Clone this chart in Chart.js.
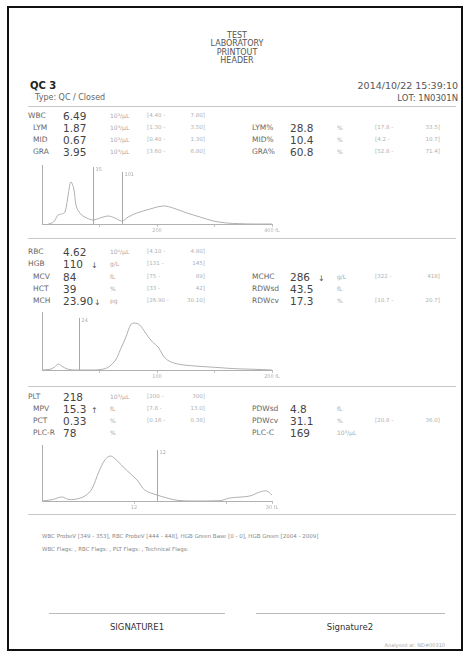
<!DOCTYPE html>
<html>
<head>
<meta charset="utf-8">
<script src="https://cdn.jsdelivr.net/npm/chart.js@4.4.0/dist/chart.umd.min.js"></script>
<style>
body{margin:0;background:#fff;}
#page{position:relative;width:469px;height:657px;overflow:hidden;font-family:"DejaVu Sans",sans-serif;}
#frame{position:absolute;left:7px;top:6px;width:456px;height:645px;border:2px solid #111;box-sizing:border-box;}
.t{position:absolute;white-space:nowrap;line-height:1;}
.v{display:inline-block;min-width:27px;}
.f{font-size:8px;color:#555;margin-left:1px;}
.hr{position:absolute;height:1px;background:#c8c8c8;}
canvas{position:absolute;}
</style>
</head>
<body>
<div id="page">
<div id="frame"></div>
<canvas id="wbcChart"></canvas>
<canvas id="rbcChart"></canvas>
<canvas id="pltChart"></canvas>
</div>
<script>
// ---- header
const headerLines = ['TEST', 'LABORATORY', 'PRINTOUT', 'HEADER'];
const sampleName = 'QC 3';
const sampleType = 'Type: QC / Closed';
const sampleDate = '2014/10/22 15:39:10';
const sampleLot = 'LOT: 1N0301N';
const mainLabels = ['WBC', 'RBC', 'HGB', 'PLT'];

// ---- WBC
const wbcNames = ['WBC', 'LYM', 'MID', 'GRA'];
const wbcValues = ['6.49', '1.87', '0.67', '3.95'];
const wbcFlags = ['', '', '', ''];
const wbcUnits = ['10³/µL', '10³/µL', '10³/µL', '10³/µL'];
const wbcRanges = [['4.40', '7.80'], ['1.30', '3.50'], ['0.40', '1.30'], ['3.60', '6.80']];
const wbcPctNames = ['LYM%', 'MID%', 'GRA%'];
const wbcPctValues = ['28.8', '10.4', '60.8'];
const wbcPctFlags = ['', '', ''];
const wbcPctUnits = ['%', '%', '%'];
const wbcPctRanges = [['17.8', '33.5'], ['4.2', '10.7'], ['52.8', '71.4']];

// WBC histogram (fL / relative count)
const wbcSize = [11, 20, 28, 34, 40, 46, 50, 55, 60, 69, 78, 89, 101, 115, 127, 139, 150, 165, 188, 211, 228, 252, 275, 298, 321, 344, 367, 400];
const wbcCount = [0, 2, 9, 10, 12, 31, 42, 36, 17, 9, 6, 4, 6, 8, 6, 3, 7, 11, 15, 18, 16, 11, 7, 3, 1, 0.3, 0, 0];
const wbcMarks = [89, 139];
const wbcMarkLabels = ['35', '101'];
const wbcMarkTops = [57, 52];
const wbcTicks = [100, 200, 300, 400];
const wbcTickLabels = ['', '200', '', '400 fL'];

// ---- RBC
const rbcNames = ['RBC', 'HGB', 'MCV', 'HCT', 'MCH'];
const rbcValues = ['4.62', '110', '84', '39', '23.90'];
const rbcFlags = ['', '↓', '', '', '↓'];
const rbcUnits = ['10⁶/µL', 'g/L', 'fL', '%', 'pg'];
const rbcRanges = [['4.10', '4.80'], ['131', '145'], ['75', '89'], ['33', '42'], ['26.90', '30.10']];
const rbcIdxNames = ['MCHC', 'RDWsd', 'RDWcv'];
const rbcIdxValues = ['286', '43.5', '17.3'];
const rbcIdxFlags = ['↓', '', ''];
const rbcIdxUnits = ['g/L', 'fL', '%'];
const rbcIdxRanges = [['322', '418'], null, ['10.7', '20.7']];

const rbcSize = [0, 7, 11, 14, 17, 22, 28, 45, 52, 58, 64, 68, 73, 77, 80, 85, 90, 96, 101, 105, 109, 118, 133, 150, 168, 185, 200];
const rbcCount = [0, 0.7, 3, 6, 4, 1, 0, 0, 0.7, 3, 10, 20, 33, 45, 47, 45, 37, 28, 23, 15, 10, 6, 4, 2.7, 1.3, 0.7, 0];
const rbcMarks = [32];
const rbcMarkLabels = ['24'];
const rbcMarkTops = [52];
const rbcTicks = [50, 100, 150, 200];
const rbcTickLabels = ['', '100', '', '200 fL'];

// ---- PLT
const pltNames = ['PLT', 'MPV', 'PCT', 'PLC-R'];
const pltValues = ['218', '15.3', '0.33', '78'];
const pltFlags = ['', '↑', '', ''];
const pltUnits = ['10³/µL', 'fL', '%', '%'];
const pltRanges = [['200', '300'], ['7.8', '13.0'], ['0.16', '0.38'], null];
const pltIdxNames = ['PDWsd', 'PDWcv', 'PLC-C'];
const pltIdxValues = ['4.8', '31.1', '169'];
const pltIdxFlags = ['', '', ''];
const pltIdxUnits = ['fL', '%', '10³/µL'];
const pltIdxRanges = [null, ['20.8', '36.0'], null];

const pltSize = [0, 1.3, 2.6, 3.4, 4.3, 5.6, 6.5, 7.4, 8.2, 8.9, 9.7, 11, 12.4, 13.4, 15, 16.3, 17.6, 19.7, 23.2, 24.5, 27.1, 28.4, 29.3, 30];
const pltCount = [0, 1.3, 4, 1.7, 1.7, 5, 12, 29, 41, 45, 41, 31, 21, 11, 6, 3, 0.7, 0, 0.3, 3, 5, 9, 10, 6];
const pltMarks = [15];
const pltMarkLabels = ['12'];
const pltMarkTops = [51];
const pltTicks = [12, 24, 30];
const pltTickLabels = ['12', '', '30 fL'];

// ---- footer
const footerLines = [
  'WBC ProbeV [349 - 353], RBC ProbeV [444 - 448], HGB Green Base [0 - 0], HGB Green [2004 - 2009]',
  'WBC Flags: , RBC Flags: , PLT Flags: , Technical Flags:'
];
const signatures = ['SIGNATURE1', 'Signature2'];
const analysedText = 'Analysed at: ND#00310';

const page = document.getElementById('page');

function put(txt, x, y, size, color, align, weight) {
  const d = document.createElement('div');
  d.className = 't';
  d.textContent = txt;
  d.style.left = x + 'px';
  d.style.top = y + 'px';
  d.style.fontSize = size + 'px';
  d.style.color = color;
  const tx = align === 'right' ? '-100%' : align === 'center' ? '-50%' : '0';
  d.style.transform = 'translate(' + tx + ',-50%)';
  if (weight) d.style.fontWeight = weight;
  page.appendChild(d);
  return d;
}

function hline(x1, x2, y, color) {
  const d = document.createElement('div');
  d.className = 'hr';
  d.style.left = x1 + 'px';
  d.style.width = (x2 - x1) + 'px';
  d.style.top = y + 'px';
  if (color) d.style.background = color;
  page.appendChild(d);
}

// columns of the result table
const leftCol = {label: 28, sub: 33, value: 63, unit: 110, rl: 147, rr: 205};
const rightCol = {label: 252, sub: 252, value: 290, unit: 337, rl: 375, rr: 440};

function rows(col, ys, names, values, flags, units, ranges) {
  names.forEach((n, i) => {
    const y = ys[i];
    put(n, mainLabels.includes(n) ? col.label : col.sub, y, 7.5, '#666');
    // value, with the high/low arrow right after it
    const d = put('', col.value, y, 10.5, '#444');
    const v = document.createElement('span');
    v.className = 'v';
    v.textContent = values[i];
    d.appendChild(v);
    if (flags[i]) {
      const f = document.createElement('span');
      f.className = 'f';
      f.textContent = flags[i];
      d.appendChild(f);
    }
    put(units[i], col.unit, y, 6, '#aaa');
    if (ranges[i]) {
      put('[' + ranges[i][0] + ' -', col.rl, y, 5.5, '#b0b0b0');
      put(ranges[i][1] + ']', col.rr, y, 5.5, '#b0b0b0', 'right');
    }
  });
}

// header
headerLines.forEach((l, i) => put(l, 237, 36 + i * 8.3, 8, '#555', 'center'));
put(sampleName, 30, 86, 10, '#222', 'left', 'bold');
put(sampleType, 35, 97.5, 8, '#666');
put(sampleDate, 458, 86, 9.5, '#555', 'right');
put(sampleLot, 458, 97.5, 8.5, '#555', 'right');
hline(28, 456, 106);

// tables
rows(leftCol, [116, 128, 140, 152], wbcNames, wbcValues, wbcFlags, wbcUnits, wbcRanges);
rows(rightCol, [128, 140, 152], wbcPctNames, wbcPctValues, wbcPctFlags, wbcPctUnits, wbcPctRanges);
hline(28, 456, 238);
rows(leftCol, [252, 264, 277, 289, 301], rbcNames, rbcValues, rbcFlags, rbcUnits, rbcRanges);
rows(rightCol, [277, 289, 301], rbcIdxNames, rbcIdxValues, rbcIdxFlags, rbcIdxUnits, rbcIdxRanges);
hline(28, 456, 386);
rows(leftCol, [397, 409, 421, 433], pltNames, pltValues, pltFlags, pltUnits, pltRanges);
rows(rightCol, [409, 421, 433], pltIdxNames, pltIdxValues, pltIdxFlags, pltIdxUnits, pltIdxRanges);
hline(28, 456, 514);

// footer
footerLines.forEach((l, i) => put(l, 42, 537 + i * 13, 5.5, '#888'));
hline(49, 225, 613, '#bbb');
hline(256, 445, 613, '#bbb');
put(signatures[0], 137, 627, 8.5, '#333', 'center');
put(signatures[1], 350, 627, 8.5, '#333', 'center');
put(analysedText, 445, 645, 5, '#aaa', 'right');

// histograms
function hist(id, box, xs, ys, xMax, yMax, ticks, tickLabels, marks, markLabels, markTops) {
  const canvas = document.getElementById(id);
  canvas.width = box.w;
  canvas.height = box.h;
  canvas.style.left = box.x + 'px';
  canvas.style.top = box.y + 'px';

  const markPlugin = {
    id: 'marks',
    afterDatasetsDraw(chart) {
      const ctx = chart.ctx;
      const sx = chart.scales.x, sy = chart.scales.y;
      ctx.save();
      ctx.strokeStyle = '#a8a8a8';
      ctx.lineWidth = 1;
      ctx.fillStyle = '#aaa';
      ctx.font = '5px "DejaVu Sans"';
      marks.forEach((m, i) => {
        const px = Math.round(sx.getPixelForValue(m)) + 0.5;
        const top = sy.getPixelForValue(markTops[i]);
        ctx.beginPath();
        ctx.moveTo(px, sy.getPixelForValue(0));
        ctx.lineTo(px, top);
        ctx.stroke();
        ctx.fillText(markLabels[i], px + 2, top + 4);
      });
      ctx.restore();
    }
  };

  new Chart(canvas.getContext('2d'), {
    type: 'line',
    data: {
      datasets: [{
        data: xs.map((x, i) => ({x: x, y: ys[i]})),
        borderColor: '#b0b0b0',
        borderWidth: 1,
        pointRadius: 0,
        tension: 0.35,
        fill: false
      }]
    },
    options: {
      responsive: false,
      animation: false,
      layout: {padding: {top: 2, right: 14, left: 0, bottom: 0}},
      plugins: {legend: {display: false}, tooltip: {enabled: false}},
      scales: {
        x: {
          type: 'linear',
          min: 0,
          max: xMax,
          afterBuildTicks: s => { s.ticks = ticks.map(v => ({value: v})); },
          afterFit: s => { s.height = 12; },
          grid: {display: true, drawOnChartArea: false, drawTicks: true, tickLength: 3, color: '#c4c4c4'},
          border: {display: true, color: '#b0b0b0'},
          ticks: {
            autoSkip: false,
            maxRotation: 0,
            padding: 1,
            color: '#b0b0b0',
            font: {size: 5, family: 'DejaVu Sans'},
            callback: (v, i) => tickLabels[i]
          }
        },
        y: {
          min: 0,
          max: yMax,
          afterFit: s => { s.width = 10; },
          grid: {display: false},
          border: {display: true, color: '#b0b0b0'},
          ticks: {display: false}
        }
      }
    },
    plugins: [markPlugin]
  });
}

hist('wbcChart', {x: 32, y: 163, w: 254, h: 73}, wbcSize, wbcCount, 400, 59,
  wbcTicks, wbcTickLabels, wbcMarks, wbcMarkLabels, wbcMarkTops);
hist('rbcChart', {x: 32, y: 310, w: 254, h: 72}, rbcSize, rbcCount, 200, 58,
  rbcTicks, rbcTickLabels, rbcMarks, rbcMarkLabels, rbcMarkTops);
hist('pltChart', {x: 32, y: 443, w: 254, h: 70}, pltSize, pltCount, 30, 56,
  pltTicks, pltTickLabels, pltMarks, pltMarkLabels, pltMarkTops);
</script>
</body>
</html>
